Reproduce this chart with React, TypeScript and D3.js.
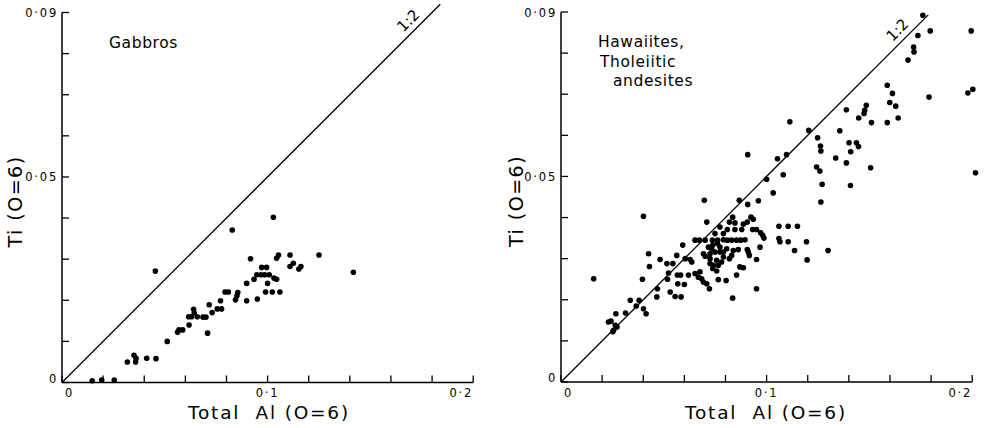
import React from "react";
import * as d3 from "d3";

// Axis ticks (data units)
const alTicks = [0, 0.02, 0.04, 0.06, 0.08, 0.1, 0.12, 0.14, 0.16, 0.18, 0.2];
const tiTicks = [0, 0.01, 0.02, 0.03, 0.04, 0.05, 0.06, 0.07, 0.08, 0.09];
const alLabelValues = [0, 0.1, 0.2];
const alLabelTexts = ["0", "0·1", "0·2"];
const tiLabelValues = [0, 0.05, 0.09];
const tiLabelTexts = ["0", "0·05", "0·09"];

// Gabbros: [total Al, Ti] per formula unit (O=6)
const gabbros: [number, number][] = [
  [0.0147, 0.0004], [0.0193, 0.0006], [0.0254, 0.0006], [0.0318, 0.005],
  [0.035, 0.0066], [0.0358, 0.005], [0.036, 0.0059], [0.0412, 0.0059],
  [0.0457, 0.0058], [0.0454, 0.0271], [0.0512, 0.01], [0.0562, 0.0122],
  [0.0569, 0.0128], [0.0587, 0.0128], [0.0618, 0.014], [0.0616, 0.016],
  [0.063, 0.016], [0.064, 0.0178], [0.0643, 0.0169], [0.0658, 0.016],
  [0.0686, 0.0159], [0.07, 0.0159], [0.0708, 0.012], [0.0716, 0.0189],
  [0.073, 0.017], [0.0755, 0.0179], [0.0776, 0.0179], [0.0771, 0.0199],
  [0.0793, 0.022], [0.0809, 0.022], [0.0828, 0.0371], [0.0844, 0.0201],
  [0.0851, 0.0211], [0.0855, 0.0219], [0.0898, 0.0199], [0.0898, 0.0241],
  [0.0917, 0.0301], [0.0934, 0.0251], [0.095, 0.0203], [0.0947, 0.0262],
  [0.0968, 0.0262], [0.0971, 0.028], [0.0986, 0.0262], [0.0995, 0.028],
  [0.1, 0.0241], [0.099, 0.022], [0.1008, 0.0262], [0.1023, 0.022],
  [0.1028, 0.0402], [0.1031, 0.0254], [0.1044, 0.0251], [0.1044, 0.0302],
  [0.1053, 0.031], [0.106, 0.022], [0.1109, 0.031], [0.1109, 0.0282],
  [0.1125, 0.029], [0.1152, 0.0276], [0.1162, 0.0282], [0.125, 0.031],
  [0.1417, 0.0268],
];

// Hawaiites and tholeiitic andesites: [total Al, Ti]
const hawaiites: [number, number][] = [
  [0.176, 0.0892], [0.1736, 0.0843], [0.1796, 0.0854], [0.1995, 0.0854],
  [0.1715, 0.0815], [0.1717, 0.0803], [0.1688, 0.0783], [0.1587, 0.0722],
  [0.1612, 0.0702], [0.1599, 0.068], [0.1628, 0.0671], [0.164, 0.0642],
  [0.1587, 0.0631], [0.179, 0.0693], [0.1979, 0.0703], [0.2003, 0.0712],
  [0.2016, 0.0509], [0.1485, 0.0673], [0.1477, 0.0661], [0.1474, 0.0653],
  [0.1448, 0.0642], [0.151, 0.0631], [0.1388, 0.0662], [0.1356, 0.0611],
  [0.1401, 0.0582], [0.1437, 0.0582], [0.1447, 0.0573], [0.1409, 0.056],
  [0.1336, 0.0545], [0.1388, 0.0533], [0.1506, 0.0521], [0.1408, 0.0478],
  [0.1248, 0.0594], [0.1262, 0.0574], [0.1264, 0.0562], [0.1243, 0.0523],
  [0.1259, 0.0513], [0.127, 0.0481], [0.1264, 0.0438], [0.1205, 0.0612],
  [0.1113, 0.0633], [0.1097, 0.0553], [0.1053, 0.0543], [0.1081, 0.0504],
  [0.1, 0.0493], [0.1032, 0.046], [0.0908, 0.0553], [0.096, 0.0441],
  [0.0908, 0.0432], [0.0867, 0.0442], [0.0697, 0.0442], [0.0709, 0.0389],
  [0.0401, 0.0403], [0.0159, 0.0251],
  [0.106, 0.0379], [0.1105, 0.0379], [0.115, 0.0379], [0.106, 0.0349],
  [0.1065, 0.0341], [0.1105, 0.0341], [0.1194, 0.0341], [0.1136, 0.032],
  [0.1299, 0.032], [0.1197, 0.0297], [0.0951, 0.0227], [0.0835, 0.0204],
  [0.0835, 0.0401], [0.0924, 0.0401], [0.0935, 0.0396], [0.0819, 0.0389],
  [0.0846, 0.0387], [0.0887, 0.0384], [0.0906, 0.0389], [0.0773, 0.0377],
  [0.0809, 0.0371], [0.0846, 0.0371], [0.0879, 0.0371], [0.0932, 0.0371],
  [0.0951, 0.0371], [0.0971, 0.0363], [0.0749, 0.0361], [0.0981, 0.0357],
  [0.0987, 0.035], [0.0652, 0.0345], [0.0673, 0.0345], [0.0701, 0.0345],
  [0.0736, 0.0345], [0.0762, 0.0345], [0.079, 0.0346], [0.0809, 0.0345],
  [0.083, 0.0345], [0.0854, 0.0345], [0.0874, 0.0345], [0.0895, 0.0346],
  [0.0592, 0.0333], [0.0738, 0.0333], [0.0773, 0.0328], [0.0806, 0.0324],
  [0.0906, 0.0322], [0.0968, 0.0328], [0.0426, 0.0312], [0.0693, 0.0312],
  [0.0725, 0.0312], [0.0749, 0.0316], [0.0773, 0.0316], [0.0838, 0.032],
  [0.0862, 0.0322], [0.0911, 0.0316], [0.0482, 0.0298], [0.0563, 0.0308],
  [0.0604, 0.03], [0.0628, 0.0298], [0.0701, 0.0306], [0.0725, 0.03],
  [0.0757, 0.0296], [0.079, 0.0304], [0.0819, 0.03], [0.083, 0.0308],
  [0.0916, 0.0308], [0.0951, 0.0298], [0.0515, 0.0288], [0.0544, 0.0288],
  [0.043, 0.0281], [0.0636, 0.0292], [0.0725, 0.0288], [0.0741, 0.0284],
  [0.0765, 0.0284], [0.0781, 0.0292], [0.087, 0.028], [0.0887, 0.0278],
  [0.0738, 0.0276], [0.0757, 0.027], [0.0523, 0.0265], [0.0566, 0.026],
  [0.0582, 0.026], [0.062, 0.026], [0.0652, 0.0264], [0.0676, 0.0268],
  [0.0668, 0.0255], [0.0684, 0.0251], [0.0693, 0.0243], [0.0709, 0.0239],
  [0.0722, 0.0227], [0.0765, 0.0249], [0.0803, 0.0247], [0.0854, 0.026],
  [0.0396, 0.025], [0.0518, 0.025], [0.0568, 0.0239], [0.06, 0.0237],
  [0.0469, 0.0227], [0.0531, 0.0219], [0.0555, 0.0208], [0.0584, 0.0207],
  [0.0466, 0.0207], [0.0337, 0.0199], [0.038, 0.0199], [0.0366, 0.0185],
  [0.0401, 0.0178], [0.0414, 0.0166], [0.0314, 0.0168], [0.0267, 0.0166],
  [0.0243, 0.0148], [0.0264, 0.0138], [0.0272, 0.0134], [0.0256, 0.0126],
  [0.0252, 0.0122], [0.0231, 0.0146], [0.079, 0.0361], [0.0717, 0.0328],
  [0.0761, 0.0337], [0.0733, 0.0324], [0.079, 0.0316],
];

const FONT = "'DejaVu Sans', sans-serif";

type PanelProps = {
  ox: number;
  oy: number;
  data: [number, number][];
  title: string[];
  titleX: number[];
  titleY: number[];
  lineEnd: number;
  ratioAt: number;
  yTitleX: number;
  xTitleX: number;
};

function Panel(p: PanelProps) {
  const x = d3.scaleLinear().domain([0, 0.2]).range([p.ox, p.ox + 411.2]);
  const y = d3.scaleLinear().domain([0, 0.09]).range([p.oy, p.oy - 370]);
  const tick = 7;
  const line = d3.line<[number, number]>().x((d) => x(d[0])).y((d) => y(d[1]));
  const ratioLine: [number, number][] = [
    [0, 0],
    [p.lineEnd * 2, p.lineEnd],
  ];
  const lx = x(p.ratioAt * 2) - 11 * Math.SQRT1_2;
  const ly = y(p.ratioAt) - 11 * Math.SQRT1_2;
  const anchors = ["start", "middle", "end"];
  const xOff = [3, 0, 0];
  return (
    <g>
      {/* axes */}
      <line x1={x(0)} x2={x(0.2)} y1={y(0)} y2={y(0)} stroke="#000" strokeWidth={1.5} />
      <line x1={x(0)} x2={x(0)} y1={y(0)} y2={y(0.09)} stroke="#000" strokeWidth={1.5} />
      {alTicks.map((t) => (
        <line key={"xt" + t} x1={x(t)} x2={x(t)} y1={y(0)} y2={y(0) - tick} stroke="#000" strokeWidth={1.3} />
      ))}
      {tiTicks.map((t) => (
        <line key={"yt" + t} x1={x(0)} x2={x(0) + tick} y1={y(t)} y2={y(t)} stroke="#000" strokeWidth={1.3} />
      ))}
      {alLabelValues.map((v, i) => (
        <text
          key={"xl" + v}
          x={x(v) + xOff[i]}
          y={y(0) + 14.5}
          textAnchor={anchors[i]}
          fontFamily={FONT}
          fontSize={11.5}
          letterSpacing={1.8}
        >
          {alLabelTexts[i]}
        </text>
      ))}
      {tiLabelValues.map((v, i) => (
        <text
          key={"yl" + v}
          x={x(0) - 4}
          y={y(v) + (v === 0 ? 0 : 4.5)}
          textAnchor="end"
          fontFamily={FONT}
          fontSize={11.5}
          letterSpacing={1.8}
        >
          {tiLabelTexts[i]}
        </text>
      ))}
      {/* axis titles */}
      <text
        transform={`translate(${p.yTitleX},${(y(0.045) + 4).toFixed(1)}) rotate(-90)`}
        textAnchor="middle"
        fontFamily={FONT}
        fontSize={19}
        letterSpacing={1.5}
      >
        Ti (O=6)
      </text>
      <text
        x={p.xTitleX}
        y={419}
        fontFamily={FONT}
        fontSize={18.5}
        letterSpacing={1.8}
        style={{ whiteSpace: "pre" }}
      >
        {"Total  Al (O=6)"}
      </text>
      {/* 1:2 reference line */}
      <path d={line(ratioLine) || ""} fill="none" stroke="#000" strokeWidth={1.3} />
      <text
        transform={`translate(${lx.toFixed(1)},${ly.toFixed(1)}) rotate(-45)`}
        textAnchor="middle"
        dominantBaseline="central"
        fontFamily={FONT}
        fontSize={15}
      >
        1:2
      </text>
      {/* rock-group label */}
      {p.title.map((t, i) => (
        <text key={t} x={p.titleX[i]} y={p.titleY[i]} fontFamily={FONT} fontSize={15.5} letterSpacing={0.6}>
          {t}
        </text>
      ))}
      {/* analyses */}
      {p.data.map((d, i) => (
        <circle key={i} cx={x(d[0])} cy={y(d[1])} r={2.8} fill="#000" />
      ))}
    </g>
  );
}

export default function App() {
  return (
    <svg
      width={985}
      height={428}
      style={{ position: "absolute", left: 0, top: 0, background: "#fff" }}
    >
      <rect width={985} height={428} fill="#fff" />
      <Panel
        ox={62}
        oy={382.5}
        data={gabbros}
        title={["Gabbros"]}
        titleX={[109]}
        titleY={[48]}
        lineEnd={0.092}
        ratioAt={0.0861}
        yTitleX={22}
        xTitleX={188}
      />
      <Panel
        ox={561}
        oy={382}
        data={hawaiites}
        title={["Hawaiites,", "Tholeiitic", "andesites"]}
        titleX={[598, 600, 613]}
        titleY={[47, 67, 86]}
        lineEnd={0.0893}
        ratioAt={0.0837}
        yTitleX={523}
        xTitleX={685}
      />
    </svg>
  );
}
